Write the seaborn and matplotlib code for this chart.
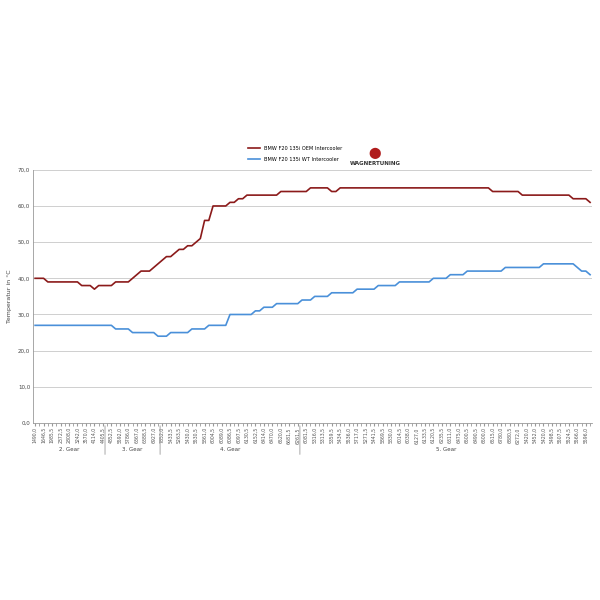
import matplotlib
matplotlib.use('Agg')
import matplotlib.pyplot as plt
import seaborn as sns
import pandas as pd

oem = [40, 40, 40, 39, 39, 39, 39, 39, 39, 39, 39, 38, 38, 38, 37, 38, 38, 38, 38, 39,
       39, 39, 39, 40, 41, 42, 42, 42, 43, 44, 45, 46, 46, 47, 48, 48, 49, 49, 50, 51,
       56, 56, 60, 60, 60, 60, 61, 61, 62, 62, 63, 63, 63, 63, 63, 63, 63, 63, 64, 64,
       64, 64, 64, 64, 64, 65, 65, 65, 65, 65, 64, 64, 65, 65, 65, 65, 65, 65, 65, 65,
       65, 65, 65, 65, 65, 65, 65, 65, 65, 65, 65, 65, 65, 65, 65, 65, 65, 65, 65, 65,
       65, 65, 65, 65, 65, 65, 65, 65, 64, 64, 64, 64, 64, 64, 64, 63, 63, 63, 63, 63,
       63, 63, 63, 63, 63, 63, 63, 62, 62, 62, 62, 61]
wt = [27, 27, 27, 27, 27, 27, 27, 27, 27, 27, 27, 27, 27, 27, 27, 27, 27, 27, 27, 26,
      26, 26, 26, 25, 25, 25, 25, 25, 25, 24, 24, 24, 25, 25, 25, 25, 25, 26, 26, 26,
      26, 27, 27, 27, 27, 27, 30, 30, 30, 30, 30, 30, 31, 31, 32, 32, 32, 33, 33, 33,
      33, 33, 33, 34, 34, 34, 35, 35, 35, 35, 36, 36, 36, 36, 36, 36, 37, 37, 37, 37,
      37, 38, 38, 38, 38, 38, 39, 39, 39, 39, 39, 39, 39, 39, 40, 40, 40, 40, 41, 41,
      41, 41, 42, 42, 42, 42, 42, 42, 42, 42, 42, 43, 43, 43, 43, 43, 43, 43, 43, 43,
      44, 44, 44, 44, 44, 44, 44, 44, 43, 42, 42, 41]

rpm_labels = ['1490,0', '1646,5', '1985,5', '2372,5', '2808,0', '3242,0', '3570,0', '4114,0',
              '4405,5', '4852,5', '5592,0', '5786,0', '6367,0', '6388,5', '6927,0', '7852,0',
              '5433,5', '5263,5', '5430,0', '5530,5', '5861,0', '6004,5', '6089,0', '6086,5',
              '6097,5', '6130,5', '6152,5', '6414,0', '6470,0', '6520,0', '6681,5', '6261,5',
              '6081,5', '5316,0', '5313,5', '5359,5', '5434,5', '5536,0', '5717,0', '5271,5',
              '5441,5', '5869,5', '5830,0', '6014,5', '6038,0', '6127,0', '6133,5', '6120,5',
              '6235,5', '6311,0', '6475,0', '6500,5', '6490,5', '6500,0', '6515,0', '6780,0',
              '6880,5', '6272,0', '5420,0', '5452,0', '5420,0', '5498,5', '5507,5', '5524,5',
              '5566,0', '5596,0']

gears = ['2. Gear', '3. Gear', '4. Gear', '5. Gear']
gear_edges = [-0.5, 16.5, 29.5, 62.5, 131.5]

df = pd.DataFrame({'idx': range(len(oem)), 'OEM': oem, 'WT': wt})

fig = plt.figure(figsize=(6, 6), dpi=100)
ax = fig.add_axes([0.055, 0.295, 0.932, 0.422])
sns.lineplot(data=df, x='idx', y='OEM', ax=ax, color='#8b1a1a', lw=1.2,
             label='BMW F20 135i OEM Intercooler')
sns.lineplot(data=df, x='idx', y='WT', ax=ax, color='#4a90d9', lw=1.2,
             label='BMW F20 135i WT Intercooler')

ax.set_ylim(0, 70)
ax.set_xlim(-0.5, len(oem) - 0.5)
ax.set_yticks(range(0, 71, 10))
ax.set_yticklabels([f'{v},0' for v in range(0, 71, 10)], fontsize=4, color='#444444')
ax.yaxis.grid(True, color='#c8c8c8', lw=0.6)
ax.set_axisbelow(True)
ax.set_ylabel('Temperatur in °C', fontsize=4.5, color='#444444')
ax.set_xlabel('')
ax.set_xticks(range(0, len(oem), 2))
ax.set_xticklabels(rpm_labels, rotation=90, fontsize=3.3, color='#555555')
ax.set_xticks(range(len(oem)), minor=True)
ax.tick_params(axis='x', which='both', length=2, color='#999999', pad=1)
ax.tick_params(axis='y', length=0, pad=2)
for s in ['top', 'right']:
    ax.spines[s].set_visible(False)
for s in ['left', 'bottom']:
    ax.spines[s].set_color('#999999')
    ax.spines[s].set_linewidth(0.6)

# Gang-Beschriftung
for i, g in enumerate(gears):
    a, b = gear_edges[i], gear_edges[i + 1]
    ax.annotate(g, xy=((a + b) / 2, 0), xycoords=('data', 'axes fraction'),
                xytext=(0, -20), textcoords='offset points', ha='center',
                fontsize=4, color='#444444')
    if i > 0:
        ax.annotate('', xy=(a, 0), xycoords=('data', 'axes fraction'),
                    xytext=(a, -0.135), textcoords=('data', 'axes fraction'),
                    arrowprops=dict(arrowstyle='-', color='#999999', lw=0.6))

leg = ax.legend(loc='upper left', bbox_to_anchor=(0.405, 0.765),
                bbox_transform=fig.transFigure, frameon=False,
                fontsize=3.6, handlelength=2.5, labelspacing=1.3)
fig.text(0.625, 0.725, 'WAGNERTUNING', fontsize=4, fontweight='bold',
         color='#333333', ha='center')
fig.text(0.625, 0.74, '⬤', fontsize=8, color='#b01c1c', ha='center')

fig.savefig('out.png', dpi=100, facecolor='white')
